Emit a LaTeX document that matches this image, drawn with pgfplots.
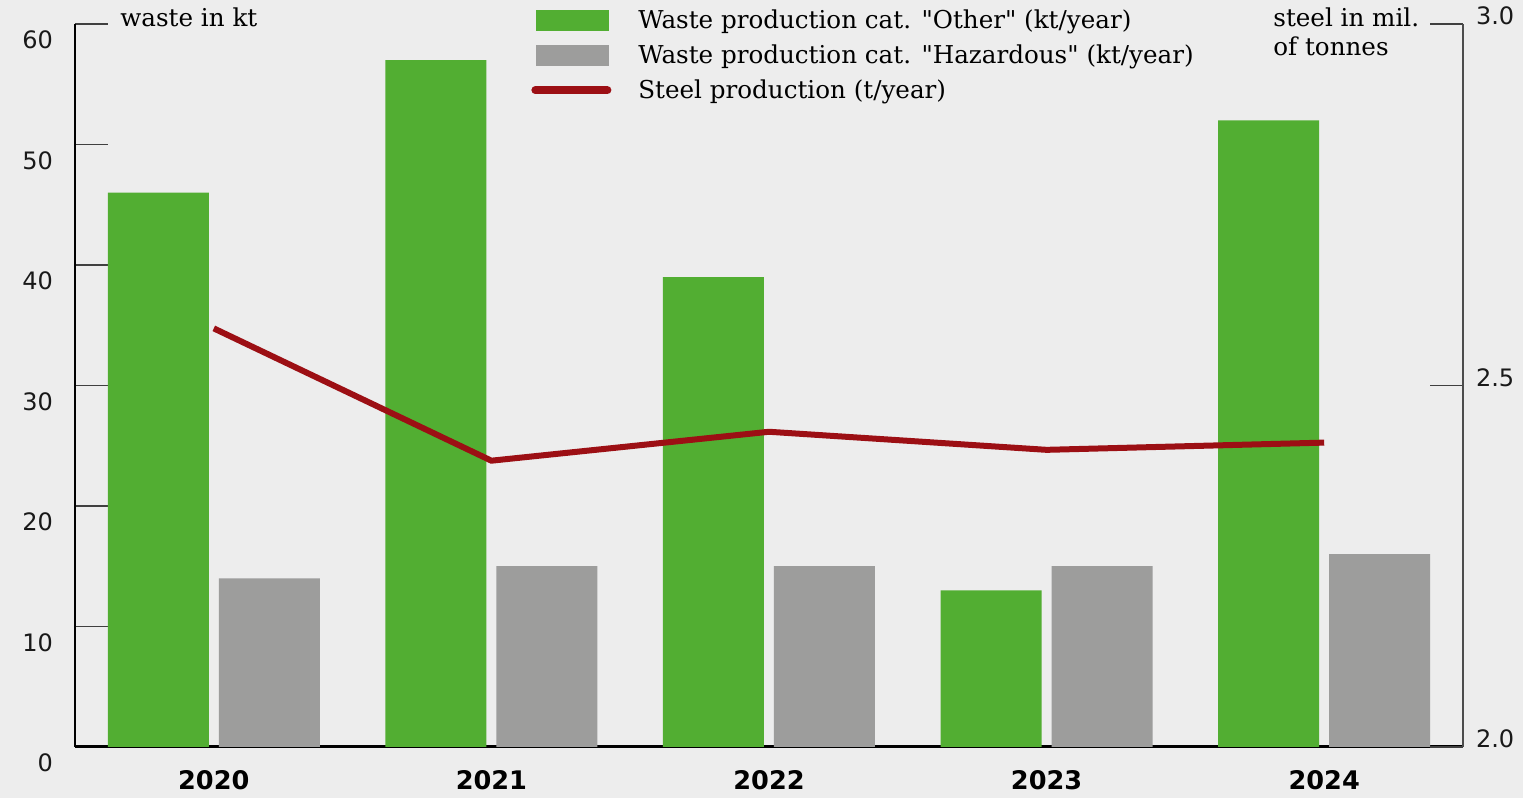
\documentclass[border=0pt]{standalone}
\usepackage{pgfplots}
\pgfplotsset{compat=1.18}
\usepackage{fontspec}
\setmainfont{DejaVu Serif}[Ligatures=TeXOff]
\newfontfamily\numfont{DejaVu Sans}
\definecolor{bg}{HTML}{EDEDED}
\definecolor{barg}{HTML}{52AE32}
\definecolor{bargr}{HTML}{9D9D9C}
\definecolor{steel}{HTML}{9C0F14}
\begin{document}
\begin{tikzpicture}
\path[fill=bg, use as bounding box] (-37.5pt,-25.5pt) rectangle (724pt,373.5pt);
\begin{axis}[
  at={(0,0)}, anchor=south west,
  scale only axis, width=694pt, height=361.5pt,
  clip=false,
  /pgf/number format/assume math mode=true,
  xmin=-0.5, xmax=4.5, ymin=0, ymax=60,
  axis x line*=bottom, axis y line*=left,
  x axis line style={line width=1.5pt, -},
  y axis line style={line width=0.6pt, -},
  xtick={0,1,2,3,4}, xticklabels={2020,2021,2022,2023,2024},
  xtick style={draw=none},
  extra x ticks={-0.5,0.5,1.5,2.5,3.5,4.5},
  extra x tick labels={},
  extra x tick style={tick style={draw=black, line width=1.5pt}, major tick length=7.5pt},
  ytick={0,10,...,60},
  tick align=inside,
  major tick length=16.5pt,
  ytick style={draw=black!75, line width=0.6pt},
  yticklabel style={font=\numfont\fontsize{12}{12}\selectfont, text=black!90, anchor=east, xshift=-7.5pt, yshift=-8pt},
  xticklabel style={font=\numfont\bfseries\fontsize{12.8}{12.8}\selectfont, anchor=center, yshift=-16.5pt},
  legend style={at={(0.3285,1.026)}, anchor=north west, draw=none, fill=none, inner sep=0pt,
    font=\fontsize{12.3}{14}\selectfont, row sep=2.6pt},
  legend cell align=left,
]
\addplot[ybar, bar width=50.5pt, bar shift=-27.75pt, fill=barg, draw=none,
  legend image code/.code={\fill[barg, draw=none] (0pt,-5.25pt) rectangle (36.5pt,5.25pt); \path[draw=none, fill=none] (-2.5pt,0pt) -- (49pt,0pt);}]
  coordinates {(0,46) (1,57) (2,39) (3,13) (4,52)};
\addlegendentry{Waste production cat. "Other" (kt/year)}
\addplot[ybar, bar width=50.5pt, bar shift=27.75pt, fill=bargr, draw=none,
  legend image code/.code={\fill[bargr, draw=none] (0pt,-5.25pt) rectangle (36.5pt,5.25pt); \path[draw=none, fill=none] (-2.5pt,0pt) -- (49pt,0pt);}]
  coordinates {(0,14) (1,15) (2,15) (3,15) (4,16)};
\addlegendentry{Waste production cat. "Hazardous" (kt/year)}
\addlegendimage{legend image code/.code={\draw[steel, line width=4pt, line cap=round] (-0.5pt,0pt) -- (35.5pt,0pt); \path[draw=none, fill=none] (-2.5pt,0pt) -- (49pt,0pt);}}
\addlegendentry{Steel production (t/year)}
\node[anchor=base west, inner sep=0pt, xshift=22.5pt, yshift=-1pt, font=\fontsize{12.3}{14}\selectfont] at (rel axis cs:0,1) {waste in kt};
\end{axis}
\begin{axis}[
  at={(0,0)}, anchor=south west,
  scale only axis, width=694pt, height=361.5pt,
  clip=false,
  xmin=-0.5, xmax=4.5, ymin=2, ymax=3,
  axis x line=none, axis y line*=right,
  y axis line style={line width=0.6pt, draw=black!70, -},
  ytick={2,2.5,3}, yticklabels={2.0,2.5,3.0},
  tick align=inside,
  major tick length=16.5pt,
  ytick style={draw=black!75, line width=0.6pt},
  yticklabel style={font=\numfont\fontsize{12}{12}\selectfont, text=black!90, anchor=west, xshift=3pt, yshift=4pt},
]
\addplot[steel, line width=3pt] coordinates {(0,2.579) (1,2.396) (2,2.436) (3,2.411) (4,2.421)};
\node[anchor=base west, inner sep=0pt, xshift=-95pt, yshift=-1.5pt, font=\fontsize{12.3}{14}\selectfont] at (rel axis cs:1,1) {steel in mil.};
\node[anchor=base west, inner sep=0pt, xshift=-95pt, yshift=-16pt, font=\fontsize{12.3}{14}\selectfont] at (rel axis cs:1,1) {of tonnes};
\end{axis}
\end{tikzpicture}
\end{document}
